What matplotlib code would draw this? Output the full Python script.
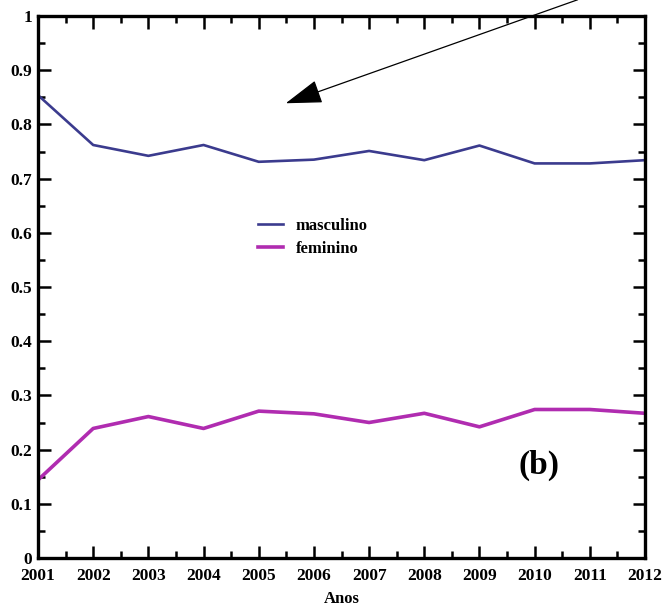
from matplotlib import pyplot as plt
from matplotlib.ticker import MultipleLocator, FormatStrFormatter, FuncFormatter


anos = [2001, 2002, 2003, 2004, 2005, 2006, 2007, 2008, 2009, 2010, 2011, 2012]

# fracao por sexo
masculino = [0.854, 0.762, 0.742, 0.762, 0.731, 0.735, 0.751, 0.734, 0.761, 0.728, 0.728, 0.734]
feminino = [0.144, 0.239, 0.261, 0.239, 0.271, 0.266, 0.250, 0.267, 0.242, 0.274, 0.274, 0.267]

SERIF = 'Liberation Serif'


def drawSexo():
    fig = plt.figure(figsize=(6.62, 6.06), dpi=100)
    ax = fig.add_axes([38 / 662, 1 - 558 / 606, 607 / 662, 542 / 606])

    ax.plot(anos, masculino, color='#3b3b8e', linewidth=1.9, label='masculino')
    ax.plot(anos, feminino, color='#b02cb0', linewidth=2.6, label='feminino')

    ax.set_xlim(2001, 2012)
    ax.set_ylim(0, 1)

    ax.xaxis.set_major_locator(MultipleLocator(1))
    ax.xaxis.set_minor_locator(MultipleLocator(0.5))
    ax.yaxis.set_major_locator(MultipleLocator(0.1))
    ax.yaxis.set_minor_locator(MultipleLocator(0.05))
    ax.xaxis.set_major_formatter(FormatStrFormatter('%d'))
    ax.yaxis.set_major_formatter(FuncFormatter(lambda v, p: '%g' % round(v, 2)))

    ax.tick_params(which='both', direction='in', top=True, right=True, width=1.8)
    ax.tick_params(which='major', length=9, labelsize=12.5)
    ax.tick_params(axis='x', which='major', pad=7)
    ax.tick_params(axis='y', which='major', pad=4)
    ax.tick_params(which='minor', length=5)
    for lab in ax.get_xticklabels() + ax.get_yticklabels():
        lab.set_fontfamily(SERIF)
        lab.set_fontweight('bold')

    for sp in ax.spines.values():
        sp.set_linewidth(2.4)

    ax.set_xlabel('Anos', fontfamily=SERIF, fontweight='bold', fontsize=12, labelpad=5)

    ax.legend(loc='upper left', bbox_to_anchor=(0.337, 0.655), frameon=False,
              handlelength=1.5, handletextpad=0.8, labelspacing=0.42,
              prop={'family': SERIF, 'weight': 'bold', 'size': 12})

    ax.text(2010.08, 0.17, '(b)', fontfamily=SERIF, fontweight='bold', fontsize=24,
            ha='center', va='center')

    # seta
    ax.annotate('', xy=(2005.49, 0.839), xytext=(2010.78, 1.03),
                annotation_clip=False,
                arrowprops=dict(arrowstyle='-|>,head_length=2.3,head_width=0.75',
                                color='black', lw=0.9, shrinkA=0, shrinkB=0))

    plt.savefig('out.png', dpi=100)
    plt.close()


drawSexo()
